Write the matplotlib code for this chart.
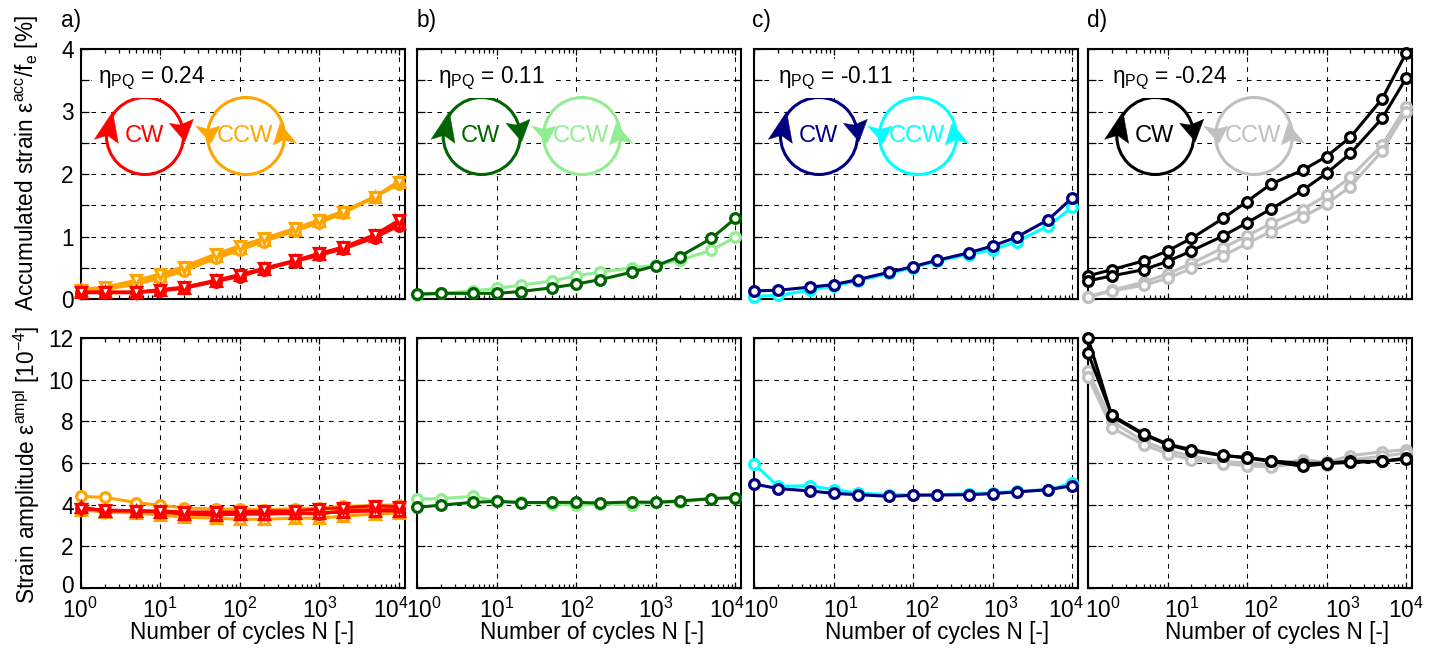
import matplotlib
matplotlib.use("Agg")
import matplotlib.pyplot as plt
from matplotlib.patches import Circle, Polygon
from matplotlib.ticker import LogLocator, NullFormatter
from matplotlib.transforms import ScaledTranslation

plt.rcParams['font.family'] = ['Liberation Sans', 'DejaVu Sans']
plt.rcParams['mathtext.fontset'] = 'custom'
plt.rcParams['mathtext.rm'] = 'Liberation Sans'
plt.rcParams['mathtext.it'] = 'Liberation Sans:italic'
plt.rcParams['mathtext.bf'] = 'Liberation Sans:bold'
plt.rcParams['mathtext.default'] = 'regular'

N = [1, 2, 5, 10, 20, 50, 100, 200, 500, 1000, 2000, 5000, 10000]

# Accumulated strain, upper row
acc_a_ccw_v = [.15, .19, .30, .40, .52, .72, .85, .97, 1.13, 1.27, 1.40, 1.64, 1.88]
acc_a_ccw_u = [.14, .17, .27, .37, .49, .69, .82, .95, 1.11, 1.25, 1.39, 1.63, 1.87]
acc_a_ccw_o = [.12, .15, .24, .33, .45, .65, .78, .92, 1.09, 1.22, 1.37, 1.63, 1.84]
acc_a_cw_o = [.10, .10, .10, .13, .17, .28, .36, .47, .60, .70, .80, .98, 1.17]
acc_a_cw_u = [.11, .11, .11, .14, .18, .29, .38, .48, .61, .72, .82, 1.01, 1.21]
acc_a_cw_v = [.11, .11, .11, .15, .19, .30, .39, .49, .62, .73, .83, 1.03, 1.26]
acc_b_ccw = [.06, .09, .13, .17, .22, .29, .37, .43, .50, .54, .62, .78, .99]
acc_b_cw = [.08, .09, .09, .09, .12, .18, .24, .31, .43, .53, .68, .97, 1.29]
acc_c_ccw = [.04, .06, .14, .21, .29, .41, .50, .61, .71, .79, .92, 1.17, 1.47]
acc_c_cw = [.13, .14, .19, .23, .31, .43, .52, .62, .74, .85, .99, 1.27, 1.62]
acc_d_ccw1 = [.04, .14, .27, .40, .57, .82, 1.01, 1.21, 1.43, 1.66, 1.95, 2.46, 3.08]
acc_d_ccw2 = [.03, .13, .22, .33, .49, .69, .89, 1.08, 1.31, 1.52, 1.80, 2.37, 3.00]
acc_d_cw1 = [.37, .47, .61, .77, .97, 1.29, 1.56, 1.84, 2.06, 2.28, 2.59, 3.20, 3.93]
acc_d_cw2 = [.29, .37, .47, .60, .77, 1.01, 1.22, 1.44, 1.74, 2.01, 2.33, 2.89, 3.53]

# Strain amplitude, lower row
amp_a_ccw_o = [4.4, 4.35, 4.1, 3.97, 3.84, 3.79, 3.79, 3.76, 3.81, 3.84, 3.92, 3.95, 4.0]
amp_a_ccw_u = [3.75, 3.65, 3.6, 3.5, 3.4, 3.35, 3.3, 3.3, 3.35, 3.35, 3.45, 3.55, 3.6]
amp_a_ccw_v = [3.8, 3.7, 3.7, 3.6, 3.6, 3.55, 3.55, 3.55, 3.55, 3.6, 3.75, 3.8, 3.8]
amp_a_cw_o = [3.85, 3.7, 3.7, 3.65, 3.6, 3.55, 3.55, 3.6, 3.6, 3.55, 3.7, 3.75, 3.75]
amp_a_cw_u = [3.9, 3.7, 3.72, 3.65, 3.55, 3.5, 3.55, 3.55, 3.6, 3.6, 3.65, 3.7, 3.7]
amp_a_cw_v = [3.8, 3.75, 3.7, 3.7, 3.65, 3.65, 3.65, 3.7, 3.7, 3.8, 3.85, 3.95, 3.9]
amp_b_ccw = [4.27, 4.29, 4.4, 4.16, 4.11, 4.05, 3.97, 4.03, 4.0, 4.11, 4.13, 4.29, 4.32]
amp_b_cw = [3.87, 3.98, 4.11, 4.16, 4.1, 4.11, 4.11, 4.08, 4.13, 4.11, 4.18, 4.29, 4.34]
amp_c_ccw = [5.94, 4.88, 4.91, 4.72, 4.56, 4.48, 4.48, 4.48, 4.53, 4.56, 4.64, 4.72, 5.04]
amp_c_cw = [4.99, 4.77, 4.66, 4.54, 4.48, 4.4, 4.45, 4.46, 4.48, 4.53, 4.61, 4.72, 4.91]
amp_d_ccw1 = [10.4, 8.0, 7.04, 6.61, 6.32, 6.08, 6.0, 5.92, 6.16, 6.03, 6.35, 6.54, 6.64]
amp_d_ccw2 = [10.13, 7.68, 6.88, 6.45, 6.16, 5.97, 5.87, 5.81, 6.0, 5.92, 6.16, 6.32, 6.48]
amp_d_cw1 = [12.0, 8.24, 7.36, 6.88, 6.59, 6.35, 6.27, 6.11, 5.97, 6.0, 6.08, 6.08, 6.24]
amp_d_cw2 = [11.28, 8.29, 7.41, 6.91, 6.64, 6.37, 6.24, 6.08, 5.84, 5.97, 6.03, 6.08, 6.19]

letters = ['a)', 'b)', 'c)', 'd)']
etas = ['0.24', '0.11', '-0.11', '-0.24']
cw_colors = ['red', 'darkgreen', 'navy', 'black']
ccw_colors = ['orange', 'lightgreen', 'cyan', 'silver']

acc_series = [
    [(acc_a_ccw_u, 'orange', '^'), (acc_a_ccw_o, 'orange', 'o'), (acc_a_ccw_v, 'orange', 'v'),
     (acc_a_cw_o, 'red', 'o'), (acc_a_cw_u, 'red', '^'), (acc_a_cw_v, 'red', 'v')],
    [(acc_b_ccw, 'lightgreen', 'o'), (acc_b_cw, 'darkgreen', 'o')],
    [(acc_c_ccw, 'cyan', 'o'), (acc_c_cw, 'navy', 'o')],
    [(acc_d_ccw1, 'silver', 'o'), (acc_d_ccw2, 'silver', 'o'), (acc_d_cw1, 'black', 'o'), (acc_d_cw2, 'black', 'o')],
]
amp_series = [
    [(amp_a_ccw_u, 'orange', '^'), (amp_a_ccw_o, 'orange', 'o'), (amp_a_ccw_v, 'orange', 'v'),
     (amp_a_cw_o, 'red', 'o'), (amp_a_cw_u, 'red', '^'), (amp_a_cw_v, 'red', 'v')],
    [(amp_b_ccw, 'lightgreen', 'o'), (amp_b_cw, 'darkgreen', 'o')],
    [(amp_c_ccw, 'cyan', 'o'), (amp_c_cw, 'navy', 'o')],
    [(amp_d_ccw1, 'silver', 'o'), (amp_d_ccw2, 'silver', 'o'), (amp_d_cw1, 'black', 'o'), (amp_d_cw2, 'black', 'o')],
]

W, H = 1440, 650
FS = 16.3

# pixel layout of the reference
left_px = [80.7, 417.3, 754.3, 1088.0]
width_px = 324.0
top_row = (49.0, 299.0)
bottom_row = (338.0, 588.0)
xmax = 10 ** (4 + 18 / 238.7)
tick_shift = [[-1, 0, 0, 1, -8], [7, 0, 0, 0, -8], [7, 7, 8, 8, -6], [15, 14, 14, 16, 0]]
xlabel_px = [242, 592, 937, 1277]
letter_px = [61, 417, 752, 1087]
eta_px = [98, 438, 778, 1112]
cw_px = [145, 481.7, 819, 1155.3]
ccw_px = [246, 582, 918, 1254]

fig = plt.figure(figsize=(W / 100, H / 100), dpi=100)


def make_axes(col, row):
    y0, y1 = row
    ax = fig.add_axes([left_px[col] / W, 1 - y1 / H, width_px / W, (y1 - y0) / H])
    ax.set_xscale('log')
    ax.set_xlim(1, xmax)
    ax.set_xticks([1, 10, 100, 1000, 10000])
    ax.xaxis.set_minor_locator(LogLocator(base=10, subs=[2, 3, 4, 5, 6, 7, 8, 9], numticks=12))
    ax.grid(True, which='major', color='black', linestyle=(0, (4.5, 5)), linewidth=0.75)
    ax.set_axisbelow(True)
    for s in ax.spines.values():
        s.set_linewidth(1.5)
        s.set_zorder(4)
    ax.tick_params(which='major', direction='in', top=True, right=True, length=6, width=0.9,
                   labelsize=FS, pad=5)
    ax.tick_params(which='minor', direction='in', top=True, length=3, width=0.9)
    ax.tick_params(axis='x', which='major', pad=7, length=4)
    ax.xaxis.set_minor_formatter(NullFormatter())
    return ax


def draw_lines(ax, series):
    for vals, col, mk in series:
        ms = 7 if mk == 'o' else 7.5
        ax.plot(N, vals, color=col, lw=2.2, marker=mk, ms=ms, mew=2.3, mfc='white', mec=col,
                clip_on=False, zorder=5)


for i in range(4):
    ax1 = make_axes(i, top_row)
    ax1.set_ylim(0, 4)
    ax1.set_yticks([0, .5, 1, 1.5, 2, 2.5, 3, 3.5, 4])
    ax1.set_yticklabels(['0', '', '1', '', '2', '', '3', '', '4'] if i == 0 else [])
    ax1.tick_params(labelbottom=False)
    draw_lines(ax1, acc_series[i])

    ax2 = make_axes(i, bottom_row)
    ax2.set_ylim(0, 12)
    ax2.set_yticks([0, 2, 4, 6, 8, 10, 12])
    if i > 0:
        ax2.set_yticklabels([])
    draw_lines(ax2, amp_series[i])
    fig.canvas.draw()
    for lab, dx in zip(ax2.get_xticklabels(), tick_shift[i]):
        lab.set_transform(lab.get_transform() + ScaledTranslation(dx / 100, 0, fig.dpi_scale_trans))
    if i == 0:
        # the 0 sits a little higher so it clears the 10^0 below it
        zero = ax2.get_yticklabels()[0]
        zero.set_transform(zero.get_transform() + ScaledTranslation(0, 4 / 100, fig.dpi_scale_trans))

# overlay in reference pixels for the hand-placed notes
over = fig.add_axes([0, 0, 1, 1], zorder=10)
over.set_xlim(0, W)
over.set_ylim(H, 0)
over.axis('off')


def loop(cx, cy, col, label, arrows):
    over.add_patch(Circle((cx, cy), 38.5, fc='white', ec=col, lw=2.2))
    for pts in arrows:
        over.add_patch(Polygon([(cx + a / 3, cy + b / 3) for a, b in pts], closed=True, fc=col, ec=col, lw=0.3))
    over.text(cx - 1, cy, label, color=col, fontsize=17, ha='center', va='center')


cw_arrows = [[(-97, -73), (-152, 10), (-113, -2), (-80, 22)],
             [(120, 17), (73, -38), (105, -33), (145, -50)]]
ccw_arrows = [[(-105, 22), (-151, -30), (-112, -20), (-78, -30)],
              [(102, -38), (82, 27), (112, 12), (152, 22)]]

for i in range(4):
    over.text(letter_px[i], 20, letters[i], fontsize=FS, ha='left', va='center')
    over.text(xlabel_px[i], 633, 'Number of cycles N [-]', fontsize=FS, ha='center', va='center')
    over.text(eta_px[i], 83, r'$\eta_{PQ}$ = ' + etas[i], fontsize=FS, ha='left', va='baseline',
              bbox=dict(fc='white', ec='none', pad=4))
    loop(cw_px[i], 136, cw_colors[i], 'CW', cw_arrows)
    loop(ccw_px[i], 136, ccw_colors[i], 'CCW', ccw_arrows)

over.text(27, 163, r'Accumulated strain $\epsilon^{acc}/f_e$ [%]', fontsize=FS, rotation=90,
          ha='center', va='center')
over.text(27, 465, r'Strain amplitude $\epsilon^{ampl}$ [10$^{-4}$]', fontsize=FS, rotation=90,
          ha='center', va='center')

fig.savefig('out.png', dpi=100)
